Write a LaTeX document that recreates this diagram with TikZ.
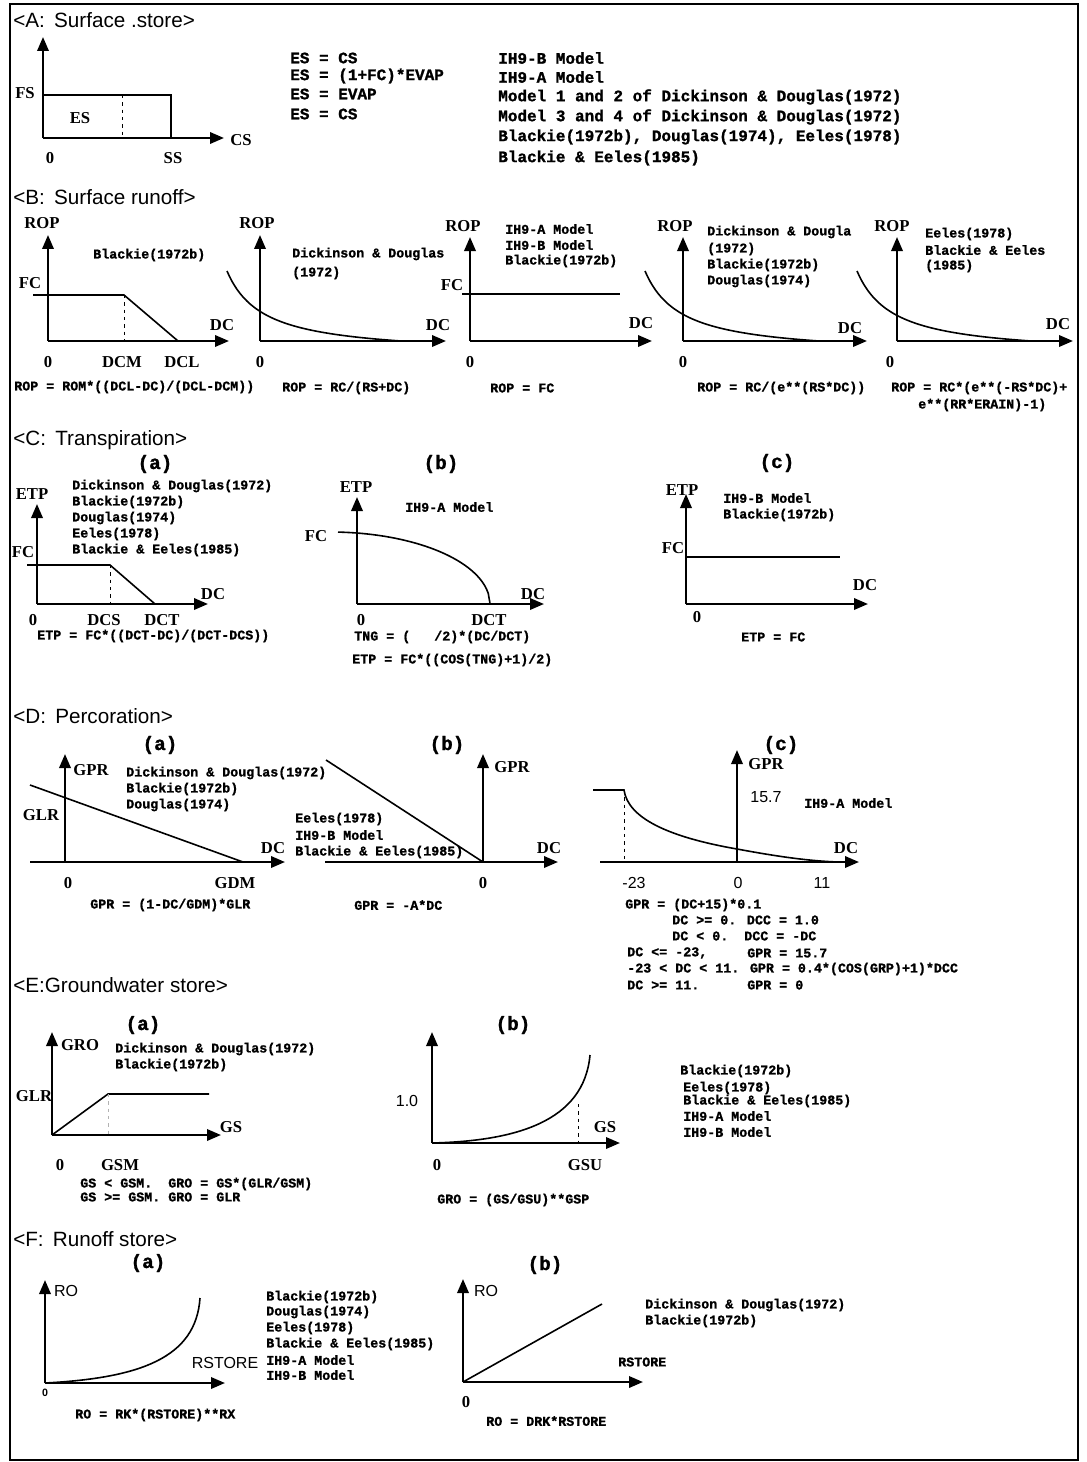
\documentclass[tikz,border=0pt]{standalone}
\usepackage{fontspec}
\setmainfont{Liberation Serif}
\newfontfamily\tw{Liberation Mono}[BoldFeatures={FakeBold=1.2}]
\newfontfamily\hs{Liberation Sans}
\usetikzlibrary{arrows.meta}
\begin{document}
\begin{tikzpicture}[x=0.75pt,y=-0.75pt,
  ax/.style={line width=1.8pt,-{Triangle[length=10.5pt,width=8.5pt]}},
  crv/.style={line width=1.2pt},
  dsh/.style={line width=0.4pt,dash pattern=on 2.5pt off 3pt},
  tx/.style={anchor=west,inner sep=0pt,font=\tw\bfseries\fontsize{10}{12}\selectfont},
  txA/.style={anchor=west,inner sep=0pt,font=\tw\bfseries\fontsize{12}{14}\selectfont},
  lb/.style={inner sep=0pt,font=\bfseries\fontsize{12.5}{14}\selectfont},
  sl/.style={inner sep=0pt,font=\hs\fontsize{12}{14}\selectfont},
  sub/.style={inner sep=0pt,font=\tw\bfseries\fontsize{14.5}{16}\selectfont},
  ttl/.style={anchor=west,inner sep=0pt,font=\hs\fontsize{15.5}{18}\selectfont}]
\useasboundingbox (0,0) rectangle (1086,1462);
\fill[white] (0,0) rectangle (1086,1462);
\draw[line width=0.9pt] (10,4) rectangle (1078,1460);

% ---------------- A ----------------
\node[ttl] (tA) at (13,20) {<A:\hspace{0.45em}Surface .store>};
\draw[ax] (43,138) -- (43,37);
\draw[ax] (43,138) -- (224,138);
\draw[crv] (43,95) -- (171,95) -- (171,138);
\draw[dsh] (122,95) -- (122,138);
\node[lb] (aFS) at (25,93) {FS};
\node[lb] (aES) at (80,118) {ES};
\node[lb] (aCS) at (241,140) {CS};
\node[lb] (a0) at (50,158) {0};
\node[lb] (aSS) at (173,158) {SS};
\node[txA] (ae1) at (290,58) {ES = CS};
\node[txA] (ae2) at (290,76) {ES = (1+FC)*EVAP};
\node[txA] (ae3) at (290,94) {ES = EVAP};
\node[txA] (ae4) at (290,114) {ES = CS};
\node[txA] (am1) at (498,58) {IH9-B Model};
\node[txA] (am2) at (498,77) {IH9-A Model};
\node[txA] (am3) at (498,97) {Model 1 and 2 of Dickinson \& Douglas(1972)};
\node[txA] (am4) at (498,117) {Model 3 and 4 of Dickinson \& Douglas(1972)};
\node[txA] (am5) at (498,137) {Blackie(1972b), Douglas(1974), Eeles(1978)};
\node[txA] (am6) at (498,158) {Blackie \& Eeles(1985)};

% ---------------- B ----------------
\node[ttl] (tB) at (13,197) {<B:\hspace{0.45em}Surface runoff>};
% B1
\draw[ax] (48,341) -- (48,235);
\draw[ax] (48,341) -- (229,341);
\draw[crv] (33,295) -- (124,295) -- (178,341);
\draw[dsh] (124,295) -- (124,341);
\node[lb] (b1rop) at (42,223) {ROP};
\node[lb] (b1fc) at (30,283) {FC};
\node[lb] (b1dc) at (222,325) {DC};
\node[lb] (b10) at (48,362) {0};
\node[lb] (b1dcm) at (122,362) {DCM};
\node[lb] (b1dcl) at (182,362) {DCL};
\node[tx] (b1t) at (93,255) {Blackie(1972b)};
\node[tx] (b1f) at (14,387) {ROP = ROM*((DCL-DC)/(DCL-DCM))};
% B2
\draw[ax] (260,341) -- (260,235);
\draw[ax] (260,341) -- (446,341);
\draw[crv] plot[domain=227:401,samples=70] ({\x},{341-(3051/(\x-227+36.1)-14.52)});
\node[lb] (b2rop) at (257,223) {ROP};
\node[lb] (b2dc) at (438,325) {DC};
\node[lb] (b20) at (260,362) {0};
\node[tx] (b2t1) at (292,254) {Dickinson \& Douglas};
\node[tx] (b2t2) at (292,273) {(1972)};
\node[tx] (b2f) at (282,388) {ROP = RC/(RS+DC)};
% B3
\draw[ax] (470,341) -- (470,237);
\draw[ax] (470,341) -- (652,341);
\draw[crv] (462,294) -- (620,294);
\node[lb] (b3rop) at (463,226) {ROP};
\node[lb] (b3fc) at (452,285) {FC};
\node[lb] (b3dc) at (641,323) {DC};
\node[lb] (b30) at (470,362) {0};
\node[tx] (b3t1) at (505,229) {IH9-A Model};
\node[tx] (b3t2) at (505,245) {IH9-B Model};
\node[tx] (b3t3) at (505,261) {Blackie(1972b)};
\node[tx] (b3f) at (490,388) {ROP = FC};
% B4
\draw[ax] (683,341) -- (683,237);
\draw[ax] (683,341) -- (867,341);
\draw[crv] plot[domain=645:819,samples=70] ({\x},{341-(3051/(\x-645+36.1)-14.52)});
\node[lb] (b4rop) at (675,226) {ROP};
\node[lb] (b4dc) at (850,328) {DC};
\node[lb] (b40) at (683,362) {0};
\node[tx] (b4t1) at (707,232) {Dickinson \& Dougla};
\node[tx] (b4t2) at (707,249) {(1972)};
\node[tx] (b4t3) at (707,265) {Blackie(1972b)};
\node[tx] (b4t4) at (707,281) {Douglas(1974)};
\node[tx] (b4f) at (697,388) {ROP = RC/(e**(RS*DC))};
% B5
\draw[ax] (897,341) -- (897,237);
\draw[ax] (897,341) -- (1073,341);
\draw[crv] plot[domain=857:1031,samples=70] ({\x},{341-(3051/(\x-857+36.1)-14.52)});
\node[lb] (b5rop) at (892,226) {ROP};
\node[lb] (b5dc) at (1058,324) {DC};
\node[lb] (b50) at (890,362) {0};
\node[tx] (b5t1) at (925,234) {Eeles(1978)};
\node[tx] (b5t2) at (925,250) {Blackie \& Eeles};
\node[tx] (b5t3) at (925,266) {(1985)};
\node[tx] (b5f1) at (891,388) {ROP = RC*(e**(-RS*DC)+};
\node[tx] (b5f2) at (918,405) {e**(RR*ERAIN)-1)};

% ---------------- C ----------------
\node[ttl] (tC) at (13,440) {<C:\hspace{0.45em}Transpiration>};
% C(a)
\node[sub] (ca) at (155,464) {(a)};
\draw[ax] (37,604) -- (37,504);
\draw[ax] (37,604) -- (208,604);
\draw[crv] (27,565) -- (110,565) -- (155,604);
\draw[dsh] (110,565) -- (110,604);
\node[lb] (caetp) at (32,494) {ETP};
\node[lb] (cafc) at (23,552) {FC};
\node[lb] (cadc) at (213,594) {DC};
\node[lb] (ca0) at (33,620) {0};
\node[lb] (cadcs) at (104,620) {DCS};
\node[lb] (cadct) at (162,620) {DCT};
\node[tx] (cat1) at (72,486) {Dickinson \& Douglas(1972)};
\node[tx] (cat2) at (72,502) {Blackie(1972b)};
\node[tx] (cat3) at (72,518) {Douglas(1974)};
\node[tx] (cat4) at (72,534) {Eeles(1978)};
\node[tx] (cat5) at (72,550) {Blackie \& Eeles(1985)};
\node[tx] (caf) at (37,636) {ETP = FC*((DCT-DC)/(DCT-DCS))};
% C(b)
\node[sub] (cb) at (441,464) {(b)};
\draw[ax] (357,604) -- (357,497);
\draw[ax] (357,604) -- (544,604);
\draw[crv] plot[domain=338:490,samples=90] ({\x},{604-72*sqrt(max(0,1-((\x-330)/160)^2))});
\node[lb] (cbetp) at (356,487) {ETP};
\node[lb] (cbfc) at (316,536) {FC};
\node[lb] (cbdc) at (533,594) {DC};
\node[lb] (cb0) at (361,620) {0};
\node[lb] (cbdct) at (489,620) {DCT};
\node[tx] (cbt) at (405,507) {IH9-A Model};
\node[tx] (cbf1) at (354,637) {TNG = (\ \ \ /2)*(DC/DCT)};
\node[tx] (cbf2) at (352,660) {ETP = FC*((COS(TNG)+1)/2)};
% C(c)
\node[sub] (cc) at (777,463) {(c)};
\draw[ax] (686,604) -- (686,494);
\draw[ax] (686,604) -- (868,604);
\draw[crv] (686,557) -- (840,557);
\node[lb] (ccetp) at (682,490) {ETP};
\node[lb] (ccfc) at (673,548) {FC};
\node[lb] (ccdc) at (865,585) {DC};
\node[lb] (cc0) at (697,617) {0};
\node[tx] (cct1) at (723,498) {IH9-B Model};
\node[tx] (cct2) at (723,515) {Blackie(1972b)};
\node[tx] (ccf) at (741,637) {ETP = FC};

% ---------------- D ----------------
\node[ttl] (tD) at (13,716) {<D:\hspace{0.45em}Percoration>};
% D(a)
\node[sub] (da) at (160,745) {(a)};
\draw[ax] (65,862) -- (65,754);
\draw[ax] (30,862) -- (285,862);
\draw[crv] (30,785) -- (243,862);
\node[lb] (dagpr) at (91,770) {GPR};
\node[lb] (daglr) at (41,815) {GLR};
\node[lb] (dadc) at (273,848) {DC};
\node[lb] (da0) at (68,883) {0};
\node[lb] (dagdm) at (235,883) {GDM};
\node[tx] (dat1) at (126,773) {Dickinson \& Douglas(1972)};
\node[tx] (dat2) at (126,789) {Blackie(1972b)};
\node[tx] (dat3) at (126,805) {Douglas(1974)};
\node[tx] (daf) at (90,905) {GPR = (1-DC/GDM)*GLR};
% D(b)
\node[sub] (db) at (447,745) {(b)};
\draw[ax] (483,862) -- (483,754);
\draw[ax] (325,862) -- (558,862);
\draw[crv] (326,760) -- (483,862);
\node[lb] (dbgpr) at (512,767) {GPR};
\node[lb] (dbdc) at (549,848) {DC};
\node[lb] (db0) at (483,883) {0};
\node[tx] (dbt1) at (295,819) {Eeles(1978)};
\node[tx] (dbt2) at (295,835) {IH9-B Model};
\node[tx] (dbt3) at (295,852) {Blackie \& Eeles(1985)};
\node[tx] (dbf) at (354,905) {GPR = -A*DC};
% D(c)
\node[sub] (dc) at (781,745) {(c)};
\draw[ax] (737,862) -- (737,750);
\draw[ax] (600,862) -- (859,862);
\draw[crv] (593,790) -- (624,790) .. controls (628,818) and (668,837) .. (737,849) .. controls (780,857) and (810,861) .. (838,862);
\draw[dsh] (624,790) -- (624,862);
\node[lb] (dcgpr) at (766,764) {GPR};
\node[sl] (dc157) at (766,797) {15.7};
\node[tx] (dct) at (804,803) {IH9-A Model};
\node[lb] (dcdc) at (846,848) {DC};
\node[sl] (dcm23) at (634,883) {-23};
\node[sl] (dc0) at (738,883) {0};
\node[sl] (dc11) at (822,883) {11};
\node[tx] (dcf1) at (625,905) {GPR = (DC+15)*0.1};
\node[tx] (dcf2) at (672,920) {DC >= 0. DCC = 1.0};
\node[tx] (dcf3) at (672,936) {DC < 0.\ \ DCC = -DC};
\node[tx] (dcf4) at (627,953) {DC <= -23,};
\node[tx] (dcf4b) at (747,953) {GPR = 15.7};
\node[tx] (dcf5) at (627,969) {-23 < DC < 11. GPR = 0.4*(COS(GRP)+1)*DCC};
\node[tx] (dcf6) at (627,985) {DC >= 11.};
\node[tx] (dcf6b) at (747,985) {GPR = 0};

% ---------------- E ----------------
\node[ttl] (tE) at (13,985) {<E:Groundwater store>};
% E(a)
\node[sub] (ea) at (143,1025) {(a)};
\draw[ax] (52,1135) -- (52,1032);
\draw[ax] (52,1135) -- (221,1135);
\draw[crv] (52,1135) -- (108,1094) -- (209,1094);
\draw[dsh,gray!60] (108,1094) -- (108,1135);
\node[lb] (eagro) at (80,1045) {GRO};
\node[lb] (eaglr) at (34,1096) {GLR};
\node[lb] (eags) at (231,1127) {GS};
\node[lb] (ea0) at (60,1165) {0};
\node[lb] (eagsm) at (120,1165) {GSM};
\node[tx] (eat1) at (115,1049) {Dickinson \& Douglas(1972)};
\node[tx] (eat2) at (115,1065) {Blackie(1972b)};
\node[tx] (eaf1) at (80,1184) {GS < GSM.\ \ GRO = GS*(GLR/GSM)};
\node[tx] (eaf2) at (80,1197) {GS >= GSM. GRO = GLR};
% E(b)
\node[sub] (eb) at (513,1025) {(b)};
\draw[ax] (432,1143) -- (432,1032);
\draw[ax] (432,1143) -- (620,1143);
\draw[crv] (432,1143) .. controls (515,1141) and (584,1122) .. (590,1055);
\draw[dsh] (578,1104) -- (578,1143);
\node[sl] (eb10) at (407,1101) {1.0};
\node[lb] (ebgs) at (605,1127) {GS};
\node[lb] (eb0) at (437,1165) {0};
\node[lb] (ebgsu) at (585,1165) {GSU};
\node[tx] (ebf) at (437,1200) {GRO = (GS/GSU)**GSP};
\node[tx] (ebt1) at (680,1071) {Blackie(1972b)};
\node[tx] (ebt2) at (683,1088) {Eeles(1978)};
\node[tx] (ebt3) at (683,1101) {Blackie \& Eeles(1985)};
\node[tx] (ebt4) at (683,1116) {IH9-A Model};
\node[tx] (ebt5) at (683,1132) {IH9-B Model};

% ---------------- F ----------------
\node[ttl] (tF) at (13,1239) {<F:\hspace{0.45em}Runoff store>};
% F(a)
\node[sub] (fa) at (148,1263) {(a)};
\draw[ax] (45,1383) -- (45,1280);
\draw[ax] (45,1383) -- (225,1383);
\draw[crv] (45,1383) .. controls (140,1378) and (196,1358) .. (200,1298);
\node[sl] (faro) at (66,1291) {RO};
\node[sl] (fars) at (225,1363) {RSTORE};
\node[inner sep=0pt,font=\hs\bfseries\fontsize{8}{9}\selectfont] (fa0) at (45,1393) {0};
\node[tx] (fat1) at (266,1297) {Blackie(1972b)};
\node[tx] (fat2) at (266,1312) {Douglas(1974)};
\node[tx] (fat3) at (266,1328) {Eeles(1978)};
\node[tx] (fat4) at (266,1344) {Blackie \& Eeles(1985)};
\node[tx] (fat5) at (266,1360) {IH9-A Model};
\node[tx] (fat6) at (266,1375) {IH9-B Model};
\node[tx] (faf) at (75,1415) {RO = RK*(RSTORE)**RX};
% F(b)
\node[sub] (fb) at (545,1265) {(b)};
\draw[ax] (463,1382) -- (463,1279);
\draw[ax] (463,1382) -- (643,1382);
\draw[crv] (463,1382) -- (602,1304);
\node[sl] (fbro) at (486,1291) {RO};
\node[tx] (fbrs) at (618,1362) {RSTORE};
\node[lb] (fb0) at (466,1402) {0};
\node[tx] (fbt1) at (645,1305) {Dickinson \& Douglas(1972)};
\node[tx] (fbt2) at (645,1321) {Blackie(1972b)};
\node[tx] (fbf) at (486,1421) {RO = DRK*RSTORE};
\end{tikzpicture}
\end{document}
